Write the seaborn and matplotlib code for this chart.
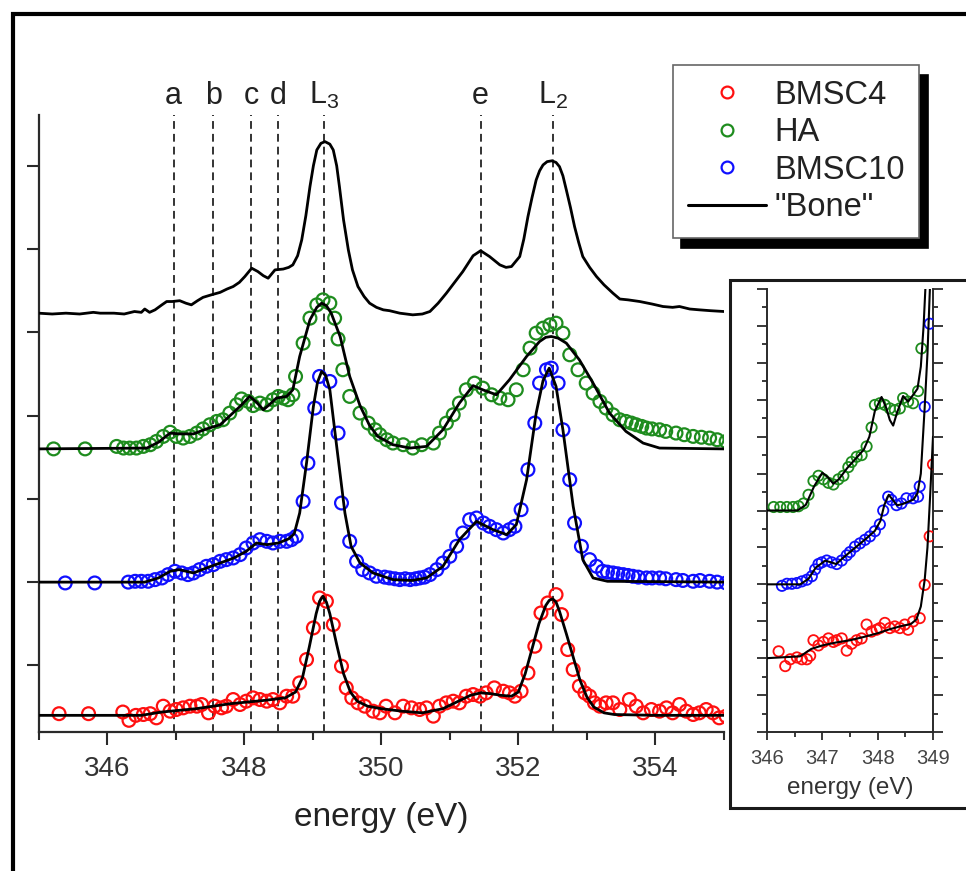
import numpy as np
import pandas as pd
import matplotlib
matplotlib.use("Agg")
import matplotlib.pyplot as plt
from matplotlib.lines import Line2D
from matplotlib.patches import Rectangle
import seaborn as sns

# ---------------- data ----------------
# BMSC4 (red circles), main panel: energy (eV), intensity (offset units)
bmsc4_e = [345.30, 345.73, 346.23, 346.32, 346.42, 346.53, 346.63, 346.72, 346.82, 346.92,
           347.01, 347.11, 347.21, 347.31, 347.38, 347.48, 347.57, 347.67, 347.74, 347.84,
           347.94, 348.03, 348.13, 348.23, 348.33, 348.42, 348.52, 348.62, 348.71, 348.81,
           348.91, 349.01, 349.10, 349.20, 349.30, 349.42, 349.49, 349.57, 349.66, 349.76,
           349.88, 349.98, 350.07, 350.20, 350.32, 350.44, 350.56, 350.66, 350.76, 350.85,
           350.95, 351.05, 351.14, 351.24, 351.34, 351.44, 351.53, 351.65, 351.78, 351.87,
           351.95, 352.04, 352.14, 352.24, 352.33, 352.43, 352.55, 352.63, 352.72, 352.80,
           352.89, 352.97, 353.04, 353.11, 353.19, 353.28, 353.38, 353.48, 353.62, 353.72,
           353.82, 353.94, 354.06, 354.16, 354.25, 354.35, 354.45, 354.55, 354.64, 354.74,
           354.84, 354.93, 355.03]
bmsc4_y = [0.42, 0.42, 0.44, 0.34, 0.40, 0.41, 0.42, 0.37, 0.51, 0.45,
           0.47, 0.49, 0.51, 0.51, 0.53, 0.43, 0.51, 0.49, 0.51, 0.59,
           0.53, 0.57, 0.61, 0.59, 0.57, 0.59, 0.55, 0.63, 0.63, 0.79,
           1.07, 1.45, 1.81, 1.77, 1.49, 0.99, 0.73, 0.61, 0.55, 0.51,
           0.45, 0.43, 0.51, 0.43, 0.51, 0.49, 0.47, 0.49, 0.39, 0.51,
           0.55, 0.57, 0.55, 0.63, 0.65, 0.63, 0.67, 0.73, 0.69, 0.67,
           0.63, 0.69, 0.91, 1.23, 1.63, 1.75, 1.85, 1.61, 1.19, 0.95,
           0.75, 0.67, 0.63, 0.55, 0.51, 0.55, 0.55, 0.47, 0.59, 0.51,
           0.43, 0.47, 0.45, 0.49, 0.43, 0.53, 0.45, 0.41, 0.43, 0.47,
           0.43, 0.37, 0.39]

# HA (green circles)
ha_e = [345.22, 345.68, 346.14, 346.24, 346.33, 346.43, 346.53, 346.63, 346.72, 346.82,
        346.92, 347.01, 347.11, 347.21, 347.31, 347.40, 347.50, 347.60, 347.69, 347.79,
        347.89, 347.96, 348.06, 348.13, 348.23, 348.33, 348.42, 348.50, 348.57, 348.64,
        348.71, 348.75, 348.86, 348.96, 349.06, 349.15, 349.25, 349.32, 349.37, 349.44,
        349.54, 349.69, 349.81, 349.91, 349.98, 350.08, 350.17, 350.32, 350.46, 350.59,
        350.76, 350.85, 350.95, 351.05, 351.14, 351.24, 351.36, 351.48, 351.61, 351.73,
        351.85, 351.97, 352.07, 352.17, 352.26, 352.36, 352.46, 352.55, 352.65, 352.75,
        352.87, 352.99, 353.09, 353.19, 353.28, 353.38, 353.48, 353.57, 353.65, 353.72,
        353.80, 353.87, 353.95, 354.06, 354.15, 354.30, 354.42, 354.55, 354.67, 354.79,
        354.90, 355.03]
ha_y = [3.60, 3.60, 3.63, 3.61, 3.61, 3.61, 3.63, 3.65, 3.69, 3.75,
        3.80, 3.75, 3.73, 3.75, 3.79, 3.84, 3.89, 3.93, 3.95, 4.03,
        4.13, 4.20, 4.17, 4.12, 4.15, 4.13, 4.19, 4.23, 4.21, 4.19,
        4.25, 4.47, 4.87, 5.17, 5.33, 5.39, 5.35, 5.17, 4.92, 4.55,
        4.23, 4.03, 3.91, 3.83, 3.77, 3.71, 3.67, 3.65, 3.61, 3.65,
        3.67, 3.79, 3.91, 4.01, 4.15, 4.31, 4.39, 4.33, 4.25, 4.21,
        4.19, 4.31, 4.55, 4.81, 4.99, 5.05, 5.09, 5.11, 4.99, 4.73,
        4.55, 4.39, 4.27, 4.17, 4.09, 4.01, 3.95, 3.93, 3.91, 3.89,
        3.87, 3.85, 3.84, 3.83, 3.81, 3.79, 3.77, 3.75, 3.74, 3.73,
        3.71, 3.69]

# BMSC10 (blue circles)
bmsc10_e = [345.39, 345.82, 346.31, 346.41, 346.50, 346.60, 346.70, 346.80, 346.89, 346.99,
            347.09, 347.18, 347.26, 347.35, 347.45, 347.55, 347.65, 347.74, 347.84, 347.94,
            348.03, 348.13, 348.23, 348.33, 348.42, 348.52, 348.62, 348.69, 348.76, 348.86,
            348.93, 349.03, 349.10, 349.25, 349.37, 349.42, 349.54, 349.64, 349.73, 349.83,
            349.93, 350.05, 350.12, 350.20, 350.27, 350.35, 350.42, 350.50, 350.56, 350.63,
            350.71, 350.81, 350.90, 351.00, 351.10, 351.19, 351.29, 351.39, 351.49, 351.58,
            351.68, 351.78, 351.87, 351.95, 352.04, 352.14, 352.24, 352.31, 352.41, 352.48,
            352.58, 352.65, 352.75, 352.82, 352.92, 353.04, 353.14, 353.23, 353.30, 353.38,
            353.45, 353.53, 353.60, 353.67, 353.75, 353.87, 353.95, 354.06, 354.15, 354.30,
            354.40, 354.55, 354.65, 354.79, 354.90, 355.03]
bmsc10_y = [1.99, 1.99, 2.00, 2.01, 2.01, 2.01, 2.03, 2.05, 2.09, 2.13,
            2.11, 2.09, 2.11, 2.15, 2.19, 2.21, 2.25, 2.27, 2.29, 2.33,
            2.41, 2.47, 2.51, 2.49, 2.47, 2.49, 2.49, 2.51, 2.55, 2.97,
            3.43, 4.09, 4.47, 4.41, 3.79, 2.95, 2.49, 2.25, 2.15, 2.11,
            2.07, 2.06, 2.05, 2.04, 2.03, 2.04, 2.03, 2.04, 2.05, 2.06,
            2.09, 2.15, 2.23, 2.31, 2.43, 2.59, 2.75, 2.77, 2.71, 2.67,
            2.63, 2.59, 2.63, 2.67, 2.87, 3.35, 3.91, 4.39, 4.55, 4.57,
            4.39, 3.83, 3.23, 2.71, 2.43, 2.27, 2.19, 2.13, 2.12, 2.11,
            2.10, 2.09, 2.08, 2.07, 2.06, 2.05, 2.05, 2.05, 2.04, 2.03,
            2.02, 2.01, 2.02, 2.01, 2.00, 1.99]

# Fits (black lines) for each sample
fit4_e = [345.0, 346.5, 346.8, 347.3, 347.8, 348.3, 348.6, 348.75, 348.85, 348.95,
          349.05, 349.1, 349.15, 349.2, 349.25, 349.35, 349.45, 349.55, 349.65, 349.8,
          350.0, 350.3, 350.6, 350.9, 351.1, 351.3, 351.45, 351.6, 351.75, 351.9,
          352.0, 352.1, 352.2, 352.3, 352.4, 352.45, 352.5, 352.55, 352.6, 352.7,
          352.8, 352.9, 353.0, 353.1, 353.25, 353.4, 354.0, 355.0]
fit4_y = [0.40, 0.40, 0.44, 0.48, 0.54, 0.58, 0.61, 0.68, 0.85, 1.22,
          1.62, 1.77, 1.83, 1.76, 1.62, 1.25, 0.90, 0.68, 0.57, 0.51,
          0.48, 0.45, 0.43, 0.48, 0.56, 0.64, 0.67, 0.66, 0.64, 0.63,
          0.68, 0.90, 1.20, 1.50, 1.72, 1.78, 1.80, 1.76, 1.65, 1.38,
          1.10, 0.82, 0.62, 0.50, 0.43, 0.41, 0.40, 0.40]

fitha_e = [345.0, 346.58, 346.75, 346.92, 347.05, 347.26, 347.45, 347.65, 347.94, 348.08,
           348.18, 348.28, 348.38, 348.47, 348.62, 348.71, 348.81, 348.96, 349.06, 349.13,
           349.2, 349.27, 349.4, 349.54, 349.69, 349.83, 349.95, 350.17, 350.42, 350.66,
           350.9, 351.14, 351.34, 351.48, 351.68, 351.87, 352.12, 352.31, 352.4, 352.48,
           352.58, 352.7, 352.89, 353.09, 353.33, 353.57, 353.82, 354.06, 355.0]
fitha_y = [3.60, 3.61, 3.68, 3.79, 3.78, 3.78, 3.84, 3.89, 4.11, 4.23,
           4.16, 4.07, 4.14, 4.21, 4.23, 4.31, 4.71, 5.15, 5.30, 5.35,
           5.32, 5.23, 4.95, 4.47, 4.12, 3.88, 3.75, 3.65, 3.61, 3.63,
           3.83, 4.15, 4.36, 4.31, 4.25, 4.43, 4.71, 4.89, 4.94, 4.95,
           4.93, 4.87, 4.67, 4.39, 4.03, 3.81, 3.67, 3.61, 3.60]

fit10_e = [345.0, 346.55, 346.75, 346.92, 347.05, 347.26, 347.45, 347.65, 347.85, 348.03,
           348.18, 348.33, 348.5, 348.65, 348.73, 348.81, 348.91, 349.01, 349.07, 349.13,
           349.19, 349.25, 349.35, 349.47, 349.56, 349.69, 349.88, 350.17, 350.45, 350.66,
           350.9, 351.14, 351.39, 351.63, 351.83, 351.97, 352.12, 352.26, 352.36, 352.45,
           352.55, 352.65, 352.8, 352.94, 353.09, 353.3, 355.0]
fit10_y = [2.00, 2.00, 2.05, 2.13, 2.15, 2.11, 2.17, 2.23, 2.29, 2.37,
           2.47, 2.45, 2.47, 2.52, 2.58, 2.83, 3.43, 4.11, 4.40, 4.53,
           4.48, 4.31, 3.63, 2.83, 2.43, 2.23, 2.11, 2.03, 2.02, 2.05,
           2.19, 2.51, 2.73, 2.63, 2.57, 2.69, 3.23, 4.03, 4.42, 4.57,
           4.35, 3.83, 2.91, 2.27, 2.05, 2.01, 2.00]

# "Bone" reference spectrum
bone_e = [345.0, 345.2, 345.4, 345.6, 345.8, 345.9, 346.1, 346.25, 346.4, 346.5,
          346.55, 346.62, 346.7, 346.8, 346.87, 346.95, 347.06, 347.15, 347.23, 347.32,
          347.4, 347.52, 347.65, 347.75, 347.84, 347.93, 348.01, 348.11, 348.2, 348.28,
          348.35, 348.45, 348.57, 348.65, 348.71, 348.78, 348.84, 348.9, 348.96, 349.01,
          349.06, 349.12, 349.18, 349.25, 349.3, 349.35, 349.39, 349.45, 349.52, 349.58,
          349.66, 349.75, 349.83, 349.93, 350.03, 350.12, 350.27, 350.46, 350.6, 350.71,
          350.83, 350.95, 351.07, 351.19, 351.34, 351.45, 351.58, 351.73, 351.82, 351.9,
          352.02, 352.08, 352.14, 352.2, 352.26, 352.31, 352.36, 352.42, 352.49, 352.55,
          352.6, 352.65, 352.7, 352.76, 352.82, 352.88, 352.94, 353.04, 353.14, 353.25,
          353.38, 353.48, 353.6, 353.77, 353.95, 354.11, 354.25, 354.35, 354.5, 354.64,
          354.8, 355.0]
bone_y = [5.23, 5.22, 5.23, 5.22, 5.24, 5.23, 5.23, 5.22, 5.25, 5.24,
          5.28, 5.24, 5.27, 5.33, 5.37, 5.37, 5.38, 5.35, 5.33, 5.38,
          5.42, 5.45, 5.48, 5.52, 5.55, 5.60, 5.67, 5.77, 5.73, 5.68,
          5.65, 5.75, 5.76, 5.78, 5.81, 5.92, 6.11, 6.40, 6.75, 7.00,
          7.19, 7.27, 7.29, 7.26, 7.19, 7.00, 6.75, 6.35, 5.99, 5.75,
          5.55, 5.43, 5.35, 5.30, 5.27, 5.26, 5.23, 5.21, 5.22, 5.25,
          5.35, 5.47, 5.60, 5.73, 5.92, 5.98, 5.91, 5.81, 5.78, 5.79,
          5.91, 6.12, 6.39, 6.62, 6.83, 6.94, 7.01, 7.05, 7.06, 7.04,
          6.99, 6.88, 6.71, 6.50, 6.27, 6.08, 5.91, 5.78, 5.67, 5.57,
          5.47, 5.40, 5.39, 5.37, 5.34, 5.31, 5.30, 5.31, 5.28, 5.27,
          5.26, 5.25]

# feature markers
feature_names = ["a", "b", "c", "d", "L$_3$", "e", "L$_2$"]
feature_e = [346.97, 347.55, 348.10, 348.50, 349.16, 351.45, 352.50]

# ---------------- inset data (346-349 eV, its own offset units) ----------------
in_ha_e = [346.12, 346.24, 346.36, 346.47, 346.57, 346.66, 346.75, 346.84, 346.93, 347.02,
           347.11, 347.20, 347.29, 347.38, 347.47, 347.53, 347.62, 347.71, 347.80, 347.89,
           347.95, 348.04, 348.13, 348.22, 348.31, 348.40, 348.46, 348.55, 348.64, 348.73,
           348.79]
in_ha_y = [12.19, 12.19, 12.19, 12.19, 12.23, 12.38, 12.85, 13.60, 13.88, 13.69,
           13.50, 13.41, 13.69, 13.88, 14.35, 14.63, 14.91, 15.00, 15.47, 16.50,
           17.72, 17.81, 17.72, 17.53, 17.44, 17.53, 18.09, 17.90, 17.81, 18.47,
           20.78]
in_bmsc10_e = [346.27, 346.36, 346.45, 346.54, 346.63, 346.72, 346.81, 346.87, 346.93, 346.99,
               347.08, 347.17, 347.26, 347.35, 347.44, 347.50, 347.59, 347.68, 347.77, 347.86,
               347.95, 348.04, 348.10, 348.19, 348.25, 348.34, 348.43, 348.52, 348.64, 348.73,
               348.76, 348.85, 348.94]
in_bmsc10_y = [7.92, 8.03, 8.03, 8.07, 8.16, 8.25, 8.44, 8.81, 9.10, 9.19,
               9.29, 9.19, 9.10, 9.29, 9.57, 9.75, 10.04, 10.22, 10.41, 10.60,
               10.88, 11.25, 12.00, 12.75, 12.57, 12.29, 12.38, 12.66, 12.66, 12.75,
               13.31, 17.62, 22.12]
in_bmsc4_e = [346.21, 346.33, 346.42, 346.54, 346.63, 346.72, 346.78, 346.84, 346.93, 347.02,
              347.11, 347.20, 347.26, 347.35, 347.44, 347.53, 347.62, 347.71, 347.80, 347.89,
              347.98, 348.04, 348.13, 348.22, 348.31, 348.40, 348.49, 348.55, 348.64, 348.76,
              348.85, 348.94, 349.00]
in_bmsc4_y = [4.37, 3.57, 3.94, 4.04, 3.94, 3.94, 4.13, 4.97, 4.69, 4.88,
              5.07, 4.88, 4.97, 5.07, 4.41, 4.78, 4.97, 5.07, 5.82, 5.44,
              5.54, 5.63, 5.91, 5.63, 5.72, 5.63, 5.82, 5.54, 5.99, 6.17,
              7.97, 10.60, 14.50]
in_fitha_e = [346.0, 346.55, 346.7, 346.85, 347.0, 347.1, 347.2, 347.3, 347.45, 347.6,
              347.75, 347.85, 347.95, 348.07, 348.15, 348.22, 348.28, 348.35, 348.46, 348.55,
              348.65, 348.72, 348.78, 348.83, 348.87]
in_fitha_y = [12.0, 12.0, 12.3, 13.3, 14.05, 13.8, 13.45, 13.7, 14.3, 14.8,
              15.3, 16.0, 17.4, 18.15, 17.6, 16.9, 16.6, 17.3, 18.2, 17.9,
              18.3, 18.6, 19.8, 22.0, 24.5]
in_fit10_e = [346.0, 346.6, 346.75, 346.88, 347.05, 347.15, 347.25, 347.4, 347.6, 347.8,
              347.95, 348.05, 348.12, 348.2, 348.28, 348.35, 348.45, 348.55, 348.65, 348.72,
              348.78, 348.85, 348.9, 348.95]
in_fit10_y = [8.0, 8.0, 8.3, 8.9, 9.28, 9.2, 9.1, 9.5, 10.0, 10.5,
              10.9, 11.44, 12.3, 12.85, 12.55, 12.28, 12.35, 12.47, 12.6, 12.94,
              14.0, 17.6, 20.5, 24.5]
in_fit4_e = [346.0, 346.6, 346.8, 347.0, 347.25, 347.5, 347.75, 348.0, 348.2, 348.4,
             348.6, 348.7, 348.78, 348.85, 348.9, 348.95, 349.0]
in_fit4_y = [4.0, 4.1, 4.5, 4.69, 4.85, 4.97, 5.15, 5.35, 5.55, 5.72,
             5.85, 6.1, 6.8, 8.25, 10.0, 12.9, 16.0]

# ---------------- styling ----------------
sns.set_theme(style="ticks")
plt.rcParams["font.family"] = ["Liberation Sans", "DejaVu Sans"]
plt.rcParams["mathtext.fontset"] = "custom"
plt.rcParams["mathtext.rm"] = "Liberation Sans"
plt.rcParams["mathtext.it"] = "Liberation Sans:italic"
plt.rcParams["mathtext.default"] = "regular"

RED, GREEN, BLUE = "#ff1010", "#1e8c1e", "#1010ff"
SPINE = "#2a2a2a"
W, H = 966, 871

fig = plt.figure(figsize=(W / 100, H / 100), dpi=100)
fig.patch.set_facecolor("white")


def fx(px):
    return px / W


def fy(py):
    return 1 - py / H


# main axes
ax = fig.add_axes([fx(38.5), fy(732), fx(724) - fx(38.5), fy(115) - fy(732)])
ax.set_xlim(345, 355)
ax.set_ylim(0.2, 7.61)

for e in feature_e:
    ax.axvline(e, color="#333333", lw=1.4, ls=(0, (4, 2.6)), zorder=1)

def scat(axis, xs, ys, col, s, lw):
    sns.scatterplot(x=xs, y=ys, ax=axis, color=col, facecolor="none", edgecolor=col,
                    linewidth=lw, s=s, marker="o", legend=False, zorder=3)

def line(axis, xs, ys, lw=2.0):
    df = pd.DataFrame({"x": xs, "y": ys})
    sns.lineplot(data=df, x="x", y="y", ax=axis, color="black", lw=lw, sort=False,
                 estimator=None, legend=False, zorder=4)

scat(ax, bmsc4_e, bmsc4_y, RED, 85, 1.6)
scat(ax, ha_e, ha_y, GREEN, 85, 1.6)
scat(ax, bmsc10_e, bmsc10_y, BLUE, 85, 1.6)
line(ax, fit4_e, fit4_y)
line(ax, fitha_e, fitha_y)
line(ax, fit10_e, fit10_y)
line(ax, bone_e, bone_y)

for name, e in zip(feature_names, feature_e):
    ax.text(e, 7.74, name, ha="center", va="baseline", fontsize=22, color="#222222",
            clip_on=False)

ax.set_xticks([346, 348, 350, 352, 354])
ax.set_xticks([345, 347, 349, 351, 353, 355], minor=True)
ax.set_yticks([1, 2, 3, 4, 5, 6, 7])
ax.set_yticklabels([])
ax.tick_params(axis="x", which="major", direction="out", length=9, width=1.5,
               labelsize=20, labelcolor="#333333", color=SPINE, pad=8)
ax.tick_params(axis="x", which="minor", direction="out", length=5.5, width=1.5, color=SPINE)
ax.tick_params(axis="y", which="major", direction="out", length=8.5, width=1.5, color=SPINE)
ax.set_xlabel("energy (eV)", fontsize=24, color="#222222", labelpad=15)
ax.set_ylabel("")
for side in ["top", "right"]:
    ax.spines[side].set_visible(False)
for side in ["left", "bottom"]:
    ax.spines[side].set_linewidth(1.6)
    ax.spines[side].set_color(SPINE)

# inset frame
frame = Rectangle((fx(730), fy(808)), fx(990) - fx(730), fy(280) - fy(808),
                  transform=fig.transFigure, facecolor="white", edgecolor="#1a1a1a",
                  lw=2.2, zorder=1)
fig.add_artist(frame)

# inset axes
ins = fig.add_axes([fx(767), fy(732), fx(933) - fx(767), fy(289) - fy(732)])
ins.set_zorder(2)
ins.set_xlim(346, 349)
ins.set_ylim(0, 24)
scat(ins, in_bmsc4_e, in_bmsc4_y, RED, 55, 1.3)
scat(ins, in_ha_e, in_ha_y, GREEN, 55, 1.3)
scat(ins, in_bmsc10_e, in_bmsc10_y, BLUE, 55, 1.3)
line(ins, in_fit4_e, in_fit4_y, 1.5)
line(ins, in_fitha_e, in_fitha_y, 1.5)
line(ins, in_fit10_e, in_fit10_y, 1.5)
ins.set_xticks([346, 347, 348, 349])
ins.set_xticks([346.5, 347.5, 348.5], minor=True)
ins.set_yticks(list(range(0, 25, 2)))
ins.set_yticks(list(range(1, 25, 2)), minor=True)
ins.tick_params(axis="x", which="major", direction="out", length=6, width=1.3,
                labelsize=14.5, labelcolor="#444444", color=SPINE, pad=6)
ins.tick_params(axis="x", which="minor", direction="out", length=3.5, width=1.3, color=SPINE)
ins.tick_params(axis="y", which="both", direction="out", left=True, right=True,
                labelleft=False, labelright=False, width=1.3, color=SPINE)
ins.tick_params(axis="y", which="major", length=7)
ins.tick_params(axis="y", which="minor", length=3.5)
ins.set_xlabel("energy (eV)", fontsize=17.5, color="#333333", labelpad=7)
ins.set_ylabel("")
ins.spines["top"].set_visible(False)
for side in ["left", "right", "bottom"]:
    ins.spines[side].set_visible(True)
    ins.spines[side].set_linewidth(1.4)
    ins.spines[side].set_color(SPINE)

# legend
handles = [
    Line2D([], [], ls="none", marker="o", ms=8.5, mfc="none", mec=RED, mew=1.6),
    Line2D([], [], ls="none", marker="o", ms=8.5, mfc="none", mec=GREEN, mew=1.6),
    Line2D([], [], ls="none", marker="o", ms=8.5, mfc="none", mec=BLUE, mew=1.6),
    Line2D([], [], color="black", lw=2.2),
]
leg = fig.legend(handles, ["BMSC4", "HA", "BMSC10", "\"Bone\""],
                 loc="upper left", bbox_to_anchor=(fx(673), fy(65)), borderaxespad=0,
                 fontsize=23.5, labelspacing=0.2, handlelength=2.4, handletextpad=0.25,
                 borderpad=0.45, frameon=True, fancybox=False,
                 shadow={"color": "black", "alpha": 1.0, "ox": 6, "oy": -7})
leg.get_frame().set_edgecolor("#666666")
leg.get_frame().set_linewidth(1.2)
leg.get_frame().set_facecolor("white")
for t in leg.get_texts():
    t.set_color("#222222")

# outer figure frame (left and top edges visible)
fig.add_artist(Line2D([fx(12.5), fx(12.5), 1.02], [-0.02, fy(14.5), fy(14.5)],
                      transform=fig.transFigure, color="black", lw=3.0,
                      solid_joinstyle="miter"))

fig.savefig("out.png", dpi=100)
